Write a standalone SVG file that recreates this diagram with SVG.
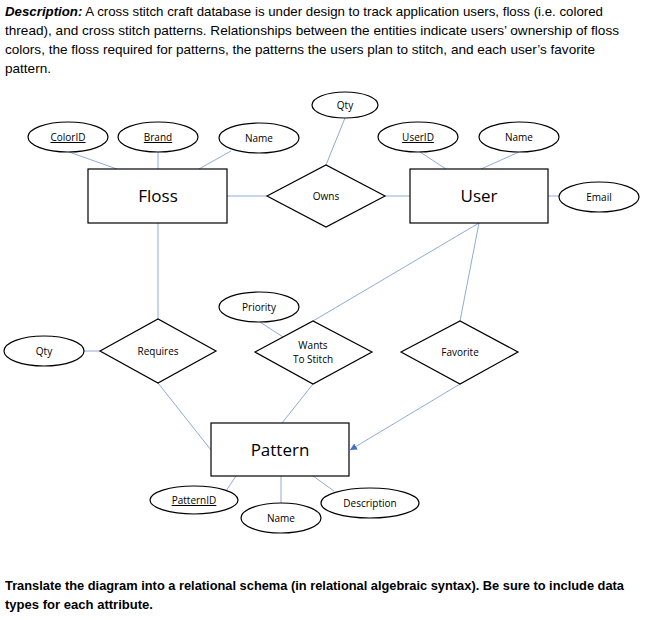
<svg xmlns="http://www.w3.org/2000/svg" width="645" height="620" viewBox="0 0 645 620">
<style>
.p{font-family:"Liberation Sans",Arial,sans-serif;font-size:13px;fill:#000}
.b{font-weight:bold}
.ent{fill:#fff;stroke:#000;stroke-width:1.2}
.rel{fill:#fff;stroke:#000;stroke-width:1.2}
.att{fill:#fff;stroke:#000;stroke-width:1.2}
.et{font-family:"Open Sans","Liberation Sans",sans-serif;font-size:17px;text-anchor:middle;fill:#000}
.at{font-family:"Open Sans","Liberation Sans",sans-serif;font-size:10px;text-anchor:middle;fill:#000}
.u{text-decoration:underline}
.c line{stroke:#8eaadb;stroke-width:1}
</style>
<defs>
<marker id="ah" viewBox="0 0 10 10" refX="10" refY="5" markerWidth="7" markerHeight="7" orient="auto" markerUnits="userSpaceOnUse">
<path d="M0,0 L10,5 L0,10 z" fill="#4472c4"/>
</marker>
</defs>
<rect width="645" height="620" fill="#fff"/>
<g id="description">
<text class="p" x="5" y="16" textLength="598" lengthAdjust="spacingAndGlyphs"><tspan class="b" font-style="italic">Description:</tspan> A cross stitch craft database is under design to track application users, floss (i.e. colored</text>
<text class="p" x="5" y="35" textLength="614" lengthAdjust="spacingAndGlyphs">thread), and cross stitch patterns.  Relationships between the entities indicate users’ ownership of floss</text>
<text class="p" x="5" y="54" textLength="590" lengthAdjust="spacingAndGlyphs">colors, the floss required for patterns, the patterns the users plan to stitch, and each user’s favorite</text>
<text class="p" x="5" y="73" textLength="46" lengthAdjust="spacingAndGlyphs">pattern.</text>
</g>
<g id="connectors" class="c">
<line x1="69" y1="152" x2="117" y2="169"/>
<line x1="158" y1="152" x2="158" y2="169"/>
<line x1="231" y1="151" x2="199" y2="169"/>
<line x1="227" y1="196" x2="267" y2="196"/>
<line x1="385" y1="196" x2="410" y2="196"/>
<line x1="345" y1="118" x2="326" y2="165"/>
<line x1="420" y1="152" x2="446" y2="169"/>
<line x1="519" y1="152" x2="481" y2="169"/>
<line x1="548" y1="196" x2="559" y2="196"/>
<line x1="158" y1="223" x2="158" y2="319"/>
<line x1="84" y1="351" x2="100" y2="351"/>
<line x1="158" y1="383" x2="211" y2="450"/>
<line x1="260" y1="322" x2="283" y2="337"/>
<line x1="479" y1="223" x2="313" y2="321"/>
<line x1="479" y1="223" x2="460" y2="321"/>
<line x1="313" y1="384" x2="282" y2="423"/>
<line x1="460" y1="384" x2="350" y2="450" marker-end="url(#ah)"/>
<line x1="236" y1="476" x2="226" y2="491"/>
<line x1="281" y1="476" x2="281" y2="503"/>
<line x1="313" y1="476" x2="334" y2="491"/>
</g>
<g id="floss">
<rect class="ent" x="88" y="169" width="139" height="54"/>
<text class="et" x="158" y="202">Floss</text>
</g>
<g id="user">
<rect class="ent" x="410" y="169" width="138" height="54"/>
<text class="et" x="479" y="202">User</text>
</g>
<g id="pattern">
<rect class="ent" x="211" y="423" width="138" height="53"/>
<text class="et" x="280" y="456">Pattern</text>
</g>
<g id="owns">
<polygon class="rel" points="267,196 326,165 385,196 326,227"/>
<text class="at" x="326" y="200">Owns</text>
</g>
<g id="requires">
<polygon class="rel" points="100,351 158,319 216,351 158,383"/>
<text class="at" x="158" y="355">Requires</text>
</g>
<g id="wants-to-stitch">
<polygon class="rel" points="255,352 313,321 372,352 313,384"/>
<text class="at" x="313" y="349">Wants</text>
<text class="at" x="313" y="363">To Stitch</text>
</g>
<g id="favorite">
<polygon class="rel" points="401,352 460,321 518,352 460,384"/>
<text class="at" x="460" y="356">Favorite</text>
</g>
<g id="floss-colorid">
<ellipse class="att" cx="68" cy="137" rx="40" ry="15"/>
<text class="at u" x="68" y="141">ColorID</text>
</g>
<g id="floss-brand">
<ellipse class="att" cx="158" cy="137" rx="40" ry="15"/>
<text class="at u" x="158" y="141">Brand</text>
</g>
<g id="floss-name">
<ellipse class="att" cx="259" cy="138" rx="40" ry="15"/>
<text class="at" x="259" y="142">Name</text>
</g>
<g id="owns-qty">
<ellipse class="att" cx="345" cy="105" rx="33" ry="13"/>
<text class="at" x="345" y="109">Qty</text>
</g>
<g id="user-userid">
<ellipse class="att" cx="418" cy="137" rx="40" ry="15"/>
<text class="at u" x="418" y="141">UserID</text>
</g>
<g id="user-name">
<ellipse class="att" cx="519" cy="137" rx="40" ry="15"/>
<text class="at" x="519" y="141">Name</text>
</g>
<g id="user-email">
<ellipse class="att" cx="599" cy="197" rx="40" ry="15"/>
<text class="at" x="599" y="201">Email</text>
</g>
<g id="requires-qty">
<ellipse class="att" cx="44" cy="351" rx="40" ry="15"/>
<text class="at" x="44" y="355">Qty</text>
</g>
<g id="wants-priority">
<ellipse class="att" cx="259" cy="307" rx="40" ry="15"/>
<text class="at" x="259" y="311">Priority</text>
</g>
<g id="pattern-patternid">
<ellipse class="att" cx="194" cy="500" rx="44" ry="14"/>
<text class="at u" x="194" y="504">PatternID</text>
</g>
<g id="pattern-name">
<ellipse class="att" cx="281" cy="518" rx="40" ry="15"/>
<text class="at" x="281" y="522">Name</text>
</g>
<g id="pattern-description">
<ellipse class="att" cx="370" cy="503" rx="49" ry="15"/>
<text class="at" x="370" y="507">Description</text>
</g>
<g id="question">
<text class="p b" x="5" y="590" textLength="619" lengthAdjust="spacingAndGlyphs">Translate the diagram into a relational schema (in relational algebraic syntax).  Be sure to include data</text>
<text class="p b" x="5" y="609" textLength="148" lengthAdjust="spacingAndGlyphs">types for each attribute.</text>
</g>
</svg>
